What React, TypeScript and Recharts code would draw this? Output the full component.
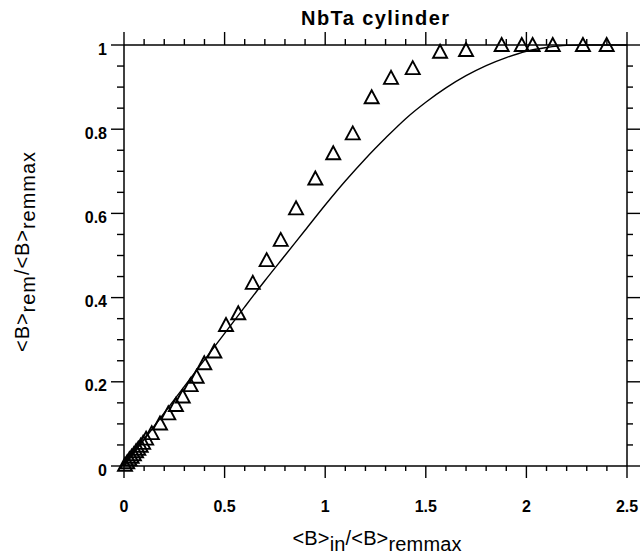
import React from 'react';
import { ComposedChart, Line, Scatter, XAxis, YAxis } from 'recharts';

// measured points (open triangles)
const measX = [
  0.005, 0.016, 0.027, 0.038, 0.049, 0.06, 0.071, 0.083, 0.095, 0.11,
  0.138, 0.179, 0.22, 0.258, 0.292, 0.331, 0.361, 0.399, 0.449, 0.507,
  0.568, 0.64, 0.709, 0.779, 0.855, 0.951, 1.04, 1.137, 1.231, 1.327,
  1.435, 1.571, 1.7, 1.877, 1.977, 2.031, 2.131, 2.281, 2.399,
];
const measY = [
  0.003, 0.009, 0.016, 0.022, 0.028, 0.035, 0.041, 0.048, 0.055, 0.065,
  0.078, 0.101, 0.125, 0.145, 0.165, 0.192, 0.212, 0.244, 0.272, 0.335,
  0.363, 0.435, 0.489, 0.537, 0.612, 0.683, 0.743, 0.79, 0.876, 0.922,
  0.945, 0.984, 0.988, 1.0, 1.0, 1.0, 1.0, 1.0, 1.0,
];

// model curve
const modelX = [
  0, 0.1, 0.2, 0.3, 0.4, 0.5, 0.6, 0.7, 0.8, 0.9, 1.0, 1.1, 1.2,
  1.3, 1.4, 1.5, 1.6, 1.7, 1.8, 1.9, 2.0, 2.1, 2.2, 2.3, 2.4, 2.5,
];
const modelY = [
  0, 0.063, 0.126, 0.189, 0.252, 0.315, 0.378, 0.44, 0.5, 0.56, 0.62, 0.677, 0.73,
  0.779, 0.825, 0.864, 0.898, 0.927, 0.951, 0.97, 0.985, 0.994, 0.999, 1.0, 1.0, 1.0,
];

const xMinorTicks = [
  0, 0.1, 0.2, 0.3, 0.4, 0.5, 0.6, 0.7, 0.8, 0.9, 1, 1.1, 1.2, 1.3,
  1.4, 1.5, 1.6, 1.7, 1.8, 1.9, 2, 2.1, 2.2, 2.3, 2.4, 2.5,
];
const xMajorTicks = [0, 0.5, 1, 1.5, 2, 2.5];
const yMinorTicks = [
  0, 0.05, 0.1, 0.15, 0.2, 0.25, 0.3, 0.35, 0.4, 0.45, 0.5,
  0.55, 0.6, 0.65, 0.7, 0.75, 0.8, 0.85, 0.9, 0.95, 1,
];
const yMajorTicks = [0, 0.2, 0.4, 0.6, 0.8, 1];

const measured = measX.map((x, i) => ({ x, y: measY[i] }));
const model = modelX.map((x, i) => ({ x, y: modelY[i] }));

const isMajor = (v: number, majors: number[]) => majors.some((m) => Math.abs(m - v) < 1e-6);

// frame tick marks, placed through the chart scales as point series
const bottomMarks = xMinorTicks.map((x) => ({ x, y: 0, major: isMajor(x, xMajorTicks) }));
const topMarks = xMinorTicks.map((x) => ({ x, y: 1, major: isMajor(x, xMajorTicks) }));
const leftMarks = yMinorTicks.map((y) => ({ x: 0, y, major: isMajor(y, yMajorTicks) }));
const rightMarks = yMinorTicks.map((y) => ({ x: 2.5, y, major: isMajor(y, yMajorTicks) }));

const FONT = '"Liberation Sans", Arial, Helvetica, sans-serif';
const axisLine = { stroke: '#000', strokeWidth: 1.5 };

const markShape = (dx: number, dy: number, major: number, minor: number) => (p: any) => {
  const len = p.payload.major ? major : minor;
  return (
    <line
      x1={p.cx}
      y1={p.cy}
      x2={p.cx + dx * len}
      y2={p.cy + dy * len}
      stroke="#000"
      strokeWidth={1.4}
    />
  );
};

const BottomLabel = ({ x, y, payload }: any) => (
  <text x={x} y={y + 46} textAnchor="middle" fontFamily={FONT} fontWeight="bold" fontSize={16} fill="#000">
    {String(payload.value)}
  </text>
);

const LeftLabel = ({ x, y, payload }: any) => (
  <text x={x - 17} y={y + 9.5} textAnchor="end" fontFamily={FONT} fontWeight="bold" fontSize={16} fill="#000">
    {String(payload.value)}
  </text>
);

const Triangle = ({ cx, cy }: any) => (
  <polygon
    points={`${cx},${cy - 7} ${cx - 7},${cy + 6} ${cx + 7},${cy + 6}`}
    fill="none"
    stroke="#000"
    strokeWidth={1.9}
  />
);

export default function App() {
  return (
    <div style={{ position: 'absolute', left: 0, top: 0, background: '#fff' }}>
      <ComposedChart width={642} height={556} margin={{ top: 0, right: 0, bottom: 0, left: 0 }}>
        <XAxis xAxisId="b" dataKey="x" type="number" orientation="bottom" domain={[0, 2.5]}
          ticks={xMajorTicks} interval={0} height={90} tickSize={0} tickMargin={0}
          tickLine={false} axisLine={axisLine} tick={BottomLabel} />
        <XAxis xAxisId="t" dataKey="x" type="number" orientation="top" domain={[0, 2.5]}
          ticks={xMajorTicks} height={45} tickLine={false} axisLine={axisLine} tick={false} />
        <YAxis yAxisId="l" dataKey="y" type="number" orientation="left" domain={[0, 1]}
          ticks={yMajorTicks} interval={0} width={124} tickSize={0} tickMargin={0}
          tickLine={false} axisLine={axisLine} tick={LeftLabel} />
        <YAxis yAxisId="r" dataKey="y" type="number" orientation="right" domain={[0, 1]}
          ticks={yMajorTicks} width={15} tickLine={false} axisLine={axisLine} tick={false} />

        <Scatter xAxisId="b" yAxisId="l" data={bottomMarks} dataKey="y"
          shape={markShape(0, 1, 12, 5)} isAnimationActive={false} />
        <Scatter xAxisId="b" yAxisId="l" data={topMarks} dataKey="y"
          shape={markShape(0, -1, 13, 6)} isAnimationActive={false} />
        <Scatter xAxisId="b" yAxisId="l" data={leftMarks} dataKey="y"
          shape={markShape(-1, 0, 13, 7)} isAnimationActive={false} />
        <Scatter xAxisId="b" yAxisId="l" data={rightMarks} dataKey="y"
          shape={markShape(1, 0, 13, 6)} isAnimationActive={false} />

        <Line
          xAxisId="b"
          yAxisId="l"
          data={model}
          dataKey="y"
          type="monotone"
          stroke="#000"
          strokeWidth={1.4}
          dot={false}
          activeDot={false}
          isAnimationActive={false}
        />
        <Scatter
          xAxisId="b"
          yAxisId="l"
          data={measured}
          dataKey="y"
          shape={Triangle}
          isAnimationActive={false}
        />
        <text x={375} y={25} textAnchor="middle" fontFamily={FONT} fontWeight="bold" fontSize={20} textLength={148} lengthAdjust="spacing" fill="#000">
          NbTa  cylinder
        </text>
        <text x={377} y={545} textAnchor="middle" fontFamily={FONT} fontSize={20} textLength={169} lengthAdjust="spacing" fill="#000">
          <tspan>&lt;B&gt;</tspan>
          <tspan dy={6}>in</tspan>
          <tspan dy={-6}>/&lt;B&gt;</tspan>
          <tspan dy={6}>remmax</tspan>
        </text>
        <text
          transform="translate(29,252) rotate(-90)"
          x={0}
          y={0}
          textAnchor="middle"
          fontFamily={FONT}
          fontSize={20}
          textLength={200}
          lengthAdjust="spacing"
          fill="#000"
        >
          <tspan>&lt;B&gt;</tspan>
          <tspan dy={6}>rem</tspan>
          <tspan dy={-6}>/&lt;B&gt;</tspan>
          <tspan dy={6}>remmax</tspan>
        </text>
      </ComposedChart>
    </div>
  );
}
